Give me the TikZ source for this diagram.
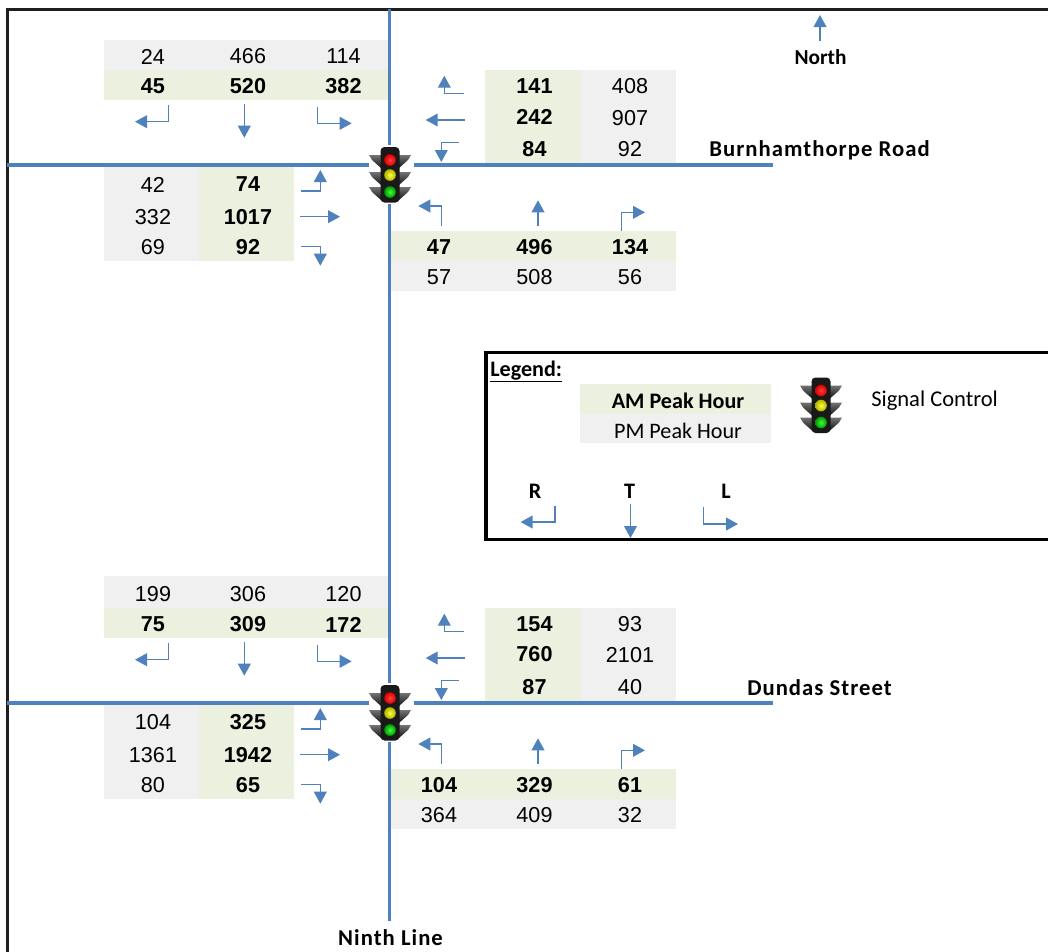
\documentclass[tikz,border=0pt]{standalone}
\usepackage{fontspec}
\setmainfont{Liberation Sans}
\newfontfamily\calib{Carlito}
\newfontfamily\calibsp[LetterSpace=4.6]{Carlito}
\usetikzlibrary{arrows.meta}
\definecolor{flowblue}{HTML}{4F81BD}
\definecolor{amfill}{HTML}{EBF1DE}
\definecolor{pmfill}{HTML}{F0F0F0}
\tikzset{
  road/.style={draw=flowblue,line width=2.8pt},
  flow/.style={draw=flowblue,line width=1pt,-{Triangle[length=9pt,width=9.6pt,fill=flowblue]}},
  frameline/.style={draw=black!88,line width=1.7pt},
  pmval/.style={inner sep=0pt,font=\fontsize{16.2pt}{18pt}\selectfont},
  amval/.style={inner sep=0pt,font=\fontsize{16.2pt}{18pt}\selectfont\bfseries},
  streetlabel/.style={inner sep=0pt,font=\fontsize{17pt}{19pt}\calibsp\bfseries},
  northlabel/.style={inner sep=0pt,font=\fontsize{16pt}{19pt}\calib\bfseries},
  legendtext/.style={inner sep=0pt,font=\fontsize{16.6pt}{18pt}\calib},
  legendbold/.style={inner sep=0pt,font=\fontsize{16.6pt}{18pt}\calib\bfseries},
  pics/trafficlight/.style={code={
    \fill[white] (-21.5,-30) rectangle (23.5,29);
    \foreach \wy in {-20,-3,12}{
      \shade[top color=black!55,bottom color=black!92]
        (-21,\wy) -- (21,\wy) -- (18,\wy+5) -- (9,\wy+13) -- (-9,\wy+13) -- (-18,\wy+5) -- cycle;
    }
    \fill[black!90,rounded corners=3pt] (-9.5,-28) rectangle (9.5,27.5);
    \shade[inner color=red!75!white,outer color=red!85!black] (0,-15) circle (5.8);
    \shade[inner color=yellow!75!white,outer color=yellow!70!black] (0,0) circle (5.8);
    \shade[inner color=green!75!white,outer color=green!60!black] (0,17) circle (5.8);
  }}
}
\begin{document}
\begin{tikzpicture}[x=0.75pt,y=-0.75pt]
\useasboundingbox (0,0) rectangle (1048,951);
\clip (0,0) rectangle (1048,951);
\fill[white] (0,0) rectangle (1048,951);
% outer frame
\coordinate (frameTL) at (7.5,9.5);
\draw[frameline] (1060,9.5) -- (frameTL) -- (7.5,960);
% tables and arrows, shared by both junctions
\fill[pmfill] (104,576) rectangle (388,580);
\foreach \dy in {0,538}{
\begin{scope}[shift={(0,\dy)}]
  \fill[pmfill] (104,40) rectangle (388,70);
  \fill[amfill] (104,70) rectangle (388,100);
  \fill[pmfill] (104,167) rectangle (199,261);
  \fill[amfill] (199,167) rectangle (294,261);
  \fill[amfill] (485,70) rectangle (581,163);
  \fill[pmfill] (581,70) rectangle (676,163);
  \fill[amfill] (391,231) rectangle (676,261);
  \fill[pmfill] (391,261) rectangle (676,291);
  \draw[flow] (168.5,105) -- (168.5,121.7) -- (135,121.7);
  \draw[flow] (244.3,104) -- (244.3,137.7);
  \draw[flow] (317.3,107) -- (317.3,123.3) -- (351.7,123.3);
  \draw[flow] (301,191) -- (320.3,191) -- (320.3,170);
  \draw[flow] (300,216.7) -- (340,216.7);
  \draw[flow] (301,246.7) -- (320.3,246.7) -- (320.3,265.7);
  \draw[flow] (463.7,93.3) -- (444.3,93.3) -- (444.3,75.7);
  \draw[flow] (465,120) -- (425.7,120);
  \draw[flow] (459,142.7) -- (441.3,142.7) -- (441.3,162);
  \draw[flow] (441.3,225.7) -- (441.3,206) -- (418.3,206);
  \draw[flow] (538,225.7) -- (538,200.3);
  \draw[flow] (621.7,230.7) -- (621.7,212.3) -- (645,212.3);
\end{scope}
}
% roads
\coordinate (ninthTop) at (389.5,9);
\coordinate (ninthEnd) at (389.5,921);
\coordinate (burnW) at (7,165);
\coordinate (burnE) at (773,165);
\coordinate (dundW) at (7,703);
\coordinate (dundE) at (773,703);
\draw[road] (ninthTop) -- (ninthEnd);
\draw[road] (burnW) -- (burnE);
\draw[road] (dundW) -- (dundE);
% signals
\pic at (390,175) {trafficlight};
\pic at (390,713) {trafficlight};
% volumes
\foreach \x/\y/\t/\s [count=\i] in {
 153/56.5/24/pmval,248/56.5/466/pmval,343.5/56.5/114/pmval,
 153/86.5/45/amval,248/86.5/520/amval,343.5/86.5/382/amval,
 153/184.5/42/pmval,248/184.5/74/amval,
 153/217.5/332/pmval,248/217.5/1017/amval,
 153/247.5/69/pmval,248/247.5/92/amval,
 534.5/86.5/141/amval,630/86.5/408/pmval,
 534.5/116.5/242/amval,630/118.5/907/pmval,
 534.5/149.5/84/amval,630/149.5/92/pmval,
 439/247.5/47/amval,534.5/247.5/496/amval,630/247.5/134/amval,
 439/277.5/57/pmval,534.5/277.5/508/pmval,630/277.5/56/pmval,
 153/594.5/199/pmval,248/594.5/306/pmval,343.5/594.5/120/pmval,
 153/624.5/75/amval,248/624.5/309/amval,343.5/624.5/172/amval,
 153/722.5/104/pmval,248/722.5/325/amval,
 153/755.5/1361/pmval,248/755.5/1942/amval,
 153/785.5/80/pmval,248/785.5/65/amval,
 534.5/624.5/154/amval,630/624.5/93/pmval,
 534.5/654.5/760/amval,630/655.5/2101/pmval,
 534.5/687.5/87/amval,630/687.5/40/pmval,
 439/785.5/104/amval,534.5/785.5/329/amval,630/785.5/61/amval,
 439/815.5/364/pmval,534.5/815.5/409/pmval,630/815.5/32/pmval}{
  \node[\s] (val\i) at (\x,\y) {\t};
}
% street labels
\node[streetlabel] (burnLabel) at (819.5,150) {Burnhamthorpe Road};
\node[streetlabel] (dundLabel) at (819.5,687.5) {Dundas Street};
\node[streetlabel] (ninthLabel) at (390.5,937.5) {Ninth Line};
\node[northlabel] (northLabel) at (820.5,57.5) {North};
\coordinate (northTail) at (820,41);
\coordinate (northTip) at (820,15);
\draw[flow] (northTail) -- (northTip);
% legend
\draw[draw=black,line width=2.3pt] (1060,352.5) -- (486,352.5) -- (486,539.5) -- (1060,539.5);
\node[legendbold,anchor=west] (legendTitle) at (490,371.5) {\underline{Legend:}};
\fill[amfill] (580,384) rectangle (771,414);
\fill[pmfill] (580,414) rectangle (771,443);
\node[legendbold] (amKey) at (678,400.5) {AM Peak Hour};
\node[legendtext] (pmKey) at (678,430.5) {PM Peak Hour};
\pic at (821,405.5) {trafficlight};
\node[legendtext,anchor=west,font=\fontsize{16.9pt}{18pt}\calib] (signalKey) at (871,401) {Signal Control};
\node[legendbold] (rKey) at (535,491.5) {R};
\node[legendbold] (tKey) at (629.5,491.5) {T};
\node[legendbold] (lKey) at (726,491.5) {L};
\draw[flow] (555,506) -- (555,522) -- (520.6,522);
\draw[flow] (630.5,504) -- (630.5,538);
\draw[flow] (703.5,507) -- (703.5,524) -- (738,524);
\end{tikzpicture}
\end{document}
